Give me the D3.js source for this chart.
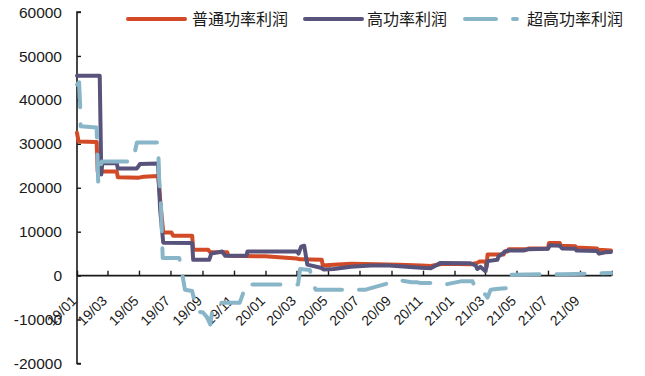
<!DOCTYPE html>
<html>
<head>
<meta charset="utf-8">
<script src="https://cdn.jsdelivr.net/npm/d3@7/dist/d3.min.js"></script>
<style>
  html, body { margin: 0; padding: 0; background: #fff; }
  svg { display: block; }
</style>
</head>
<body>
<svg id="chart" width="645" height="376"></svg>
<script>
// ---- data ----
const seriesNames = ["普通功率利润", "高功率利润", "超高功率利润"];
const seriesColors = ["#d24a26", "#58537a", "#89b5c8"];

const yTicks = [-20000, -10000, 0, 10000, 20000, 30000, 40000, 50000, 60000];
const xTickLabels = ["19/01","19/03","19/05","19/07","19/09","19/11","20/01","20/03","20/05","20/07","20/09","20/11","21/01","21/03","21/05","21/07","21/09"];
const xDomain = ["2019-01-01", "2021-11-01"];

const normalDates = ["2019-01-01","2019-01-04","2019-02-08","2019-02-10","2019-03-19","2019-03-21","2019-05-01","2019-05-10","2019-06-07","2019-06-12","2019-06-17","2019-07-03","2019-07-06","2019-08-12","2019-08-14","2019-09-12","2019-09-15","2019-10-19","2019-10-21","2019-12-31","2020-03-01","2020-03-08","2020-04-19","2020-04-21","2020-05-12","2020-06-15","2020-08-01","2020-09-15","2020-10-28","2020-11-16","2020-12-09","2021-02-01","2021-02-14","2021-02-18","2021-03-02","2021-03-04","2021-03-06","2021-04-06","2021-04-08","2021-04-14","2021-04-16","2021-05-23","2021-05-25","2021-07-01","2021-07-03","2021-07-24","2021-07-26","2021-08-23","2021-08-25","2021-10-04","2021-10-06","2021-10-31"];
const normalValues = [32500,30500,30400,23700,23700,22400,22300,22500,22700,16000,9800,9800,9100,9100,5900,5900,5400,5300,4500,4400,3900,3700,3600,2300,2500,2700,2600,2500,2300,2200,2700,2600,2900,3200,3200,2000,4800,4800,5500,5500,6000,6000,6200,6200,7400,7400,6800,6700,6400,6200,5900,5700];

const highDates = ["2019-01-01","2019-02-14","2019-02-17","2019-02-19","2019-03-19","2019-03-21","2019-04-27","2019-05-03","2019-06-07","2019-06-11","2019-06-17","2019-08-12","2019-08-14","2019-09-14","2019-09-18","2019-10-09","2019-10-15","2019-11-25","2019-11-27","2020-03-02","2020-03-05","2020-03-10","2020-03-16","2020-03-22","2020-04-17","2020-04-23","2020-05-12","2020-06-14","2020-07-23","2020-08-27","2020-10-28","2020-11-16","2020-12-05","2021-02-01","2021-02-11","2021-02-14","2021-02-20","2021-03-02","2021-03-06","2021-03-25","2021-03-27","2021-04-10","2021-04-14","2021-05-15","2021-05-23","2021-07-01","2021-07-05","2021-07-24","2021-07-28","2021-08-23","2021-08-25","2021-10-04","2021-10-08","2021-10-20","2021-10-31"];
const highValues = [45500,45500,23000,25600,25600,24400,24400,25400,25500,15000,7500,7400,3600,3600,5000,5500,4500,4500,5500,5500,5000,6600,6800,2500,1800,1400,1500,2000,2300,2300,1800,1700,2900,2800,2300,1500,2000,1000,3300,3600,4300,5500,5700,5700,6000,6100,6900,6800,6200,6100,5700,5600,5000,5300,5400];

const ultraDates = ["2019-01-01","2019-01-05","2019-01-07","2019-01-08","2019-02-08","2019-02-11","2019-02-18","2019-04-19","2019-04-27","2019-06-07","2019-06-09","2019-06-12","2019-06-16","2019-07-18","2019-07-23","2019-07-29","2019-08-12","2019-08-21","2019-09-02","2019-09-10","2019-09-16","2019-09-20","2019-09-27","2019-11-12","2019-11-20","2019-11-25","2019-11-27","2020-03-04","2020-03-08","2020-03-27","2020-04-02","2020-04-07","2020-07-13","2020-08-06","2020-08-27","2020-09-15","2020-10-10","2020-10-20","2020-10-28","2020-12-05","2020-12-15","2021-01-13","2021-02-05","2021-02-11","2021-03-02","2021-03-06","2021-03-12","2021-03-27","2021-04-16","2021-04-20","2021-06-18","2021-08-01","2021-10-31"];
const ultraValues = [43500,44000,39000,34000,33700,21400,26000,26000,30300,30300,22000,18000,4000,4000,1000,-3200,-3500,-8100,-8400,-9500,-11100,-8000,-6200,-6200,-3600,-3600,-2000,-2000,1500,1300,-1600,-3200,-3200,-2400,-1700,-1000,-1500,-1500,-1700,-1700,-2000,-1300,-1300,-3200,-4300,-5000,-3200,-3000,-2800,200,300,300,600];

// ---- chart ----
const svg = d3.select("#chart");
const parse = d3.timeParse("%Y-%m-%d");
const parseTick = d3.timeParse("%y/%m");

const x = d3.scaleTime().domain(xDomain.map(parse)).range([77, 611.5]);
const y = d3.scaleLinear().domain([-20000, 60000]).range([363.5, 12]);

const axisColor = "#1a1a1a";

// y axis
const yAxis = svg.append("g").attr("transform", "translate(77,0)")
  .call(d3.axisRight(y).tickValues(yTicks).tickSize(4).tickFormat(""));
yAxis.select(".domain").attr("stroke", axisColor).attr("stroke-width", 1.6).attr("d", `M4,${y(60000)}H0V${y(-20000)}H4`);
yAxis.selectAll(".tick line").attr("stroke", axisColor).attr("stroke-width", 1.4);

svg.append("g").selectAll("text").data(yTicks).join("text")
  .attr("x", 62).attr("y", d => y(d)).attr("dy", "0.36em")
  .attr("text-anchor", "end")
  .attr("font-family", "'Liberation Sans', Arial, sans-serif")
  .attr("font-size", 15.5).attr("fill", "#1a1a1a")
  .text(d => d);

// x axis
const xTickDates = xTickLabels.map(parseTick).concat([parse(xDomain[1])]);
const xAxis = svg.append("g").attr("transform", `translate(0,${y(0)})`)
  .call(d3.axisTop(x).tickValues(xTickDates).tickSize(5).tickFormat(""));
xAxis.select(".domain").attr("stroke", axisColor).attr("stroke-width", 1.6).attr("d", `M77,0H${x(parse(xDomain[1]))}`);
xAxis.selectAll(".tick line").attr("stroke", axisColor).attr("stroke-width", 1.4);

svg.append("g").selectAll("text").data(xTickLabels).join("text")
  .attr("transform", d => `translate(${x(parseTick(d)) + 0.5},${y(0) + 26}) rotate(-45)`)
  .attr("text-anchor", "end")
  .attr("font-family", "'Liberation Sans', Arial, sans-serif")
  .attr("font-size", 14).attr("fill", "#1a1a1a")
  .text(d => d);

// lines
const line = d3.line().x(d => x(d[0])).y(d => y(d[1]));
const seriesData = [
  d3.zip(normalDates.map(parse), normalValues),
  d3.zip(highDates.map(parse), highValues),
  d3.zip(ultraDates.map(parse), ultraValues)
];
seriesData.forEach((data, i) => {
  const p = svg.append("path").datum(data)
    .attr("fill", "none")
    .attr("stroke", seriesColors[i])
    .attr("stroke-width", 4)
    .attr("stroke-linejoin", "round")
    .attr("stroke-linecap", "round")
    .attr("d", line);
  if (i === 2) p.attr("stroke-dasharray", "28,17");
});

// legend
const legendItems = [
  {lx: 128, tx: 192},
  {lx: 305, tx: 367},
  {lx: 465, tx: 527}
];
const lg = svg.append("g");
legendItems.forEach((it, i) => {
  const l = lg.append("line")
    .attr("x1", it.lx).attr("x2", it.lx + 57)
    .attr("y1", 19).attr("y2", 19)
    .attr("stroke", seriesColors[i]).attr("stroke-width", 4)
    .attr("stroke-linecap", "round");
  if (i === 2) l.attr("x1", 465).attr("x2", 517).attr("stroke-dasharray", "31,17");
  lg.append("text")
    .attr("x", it.tx).attr("y", 19).attr("dy", "0.36em")
    .attr("font-family", "'Noto Sans CJK SC', sans-serif")
    .attr("font-size", 16).attr("fill", "#1a1a1a")
    .text(seriesNames[i]);
});
</script>
</body>
</html>
